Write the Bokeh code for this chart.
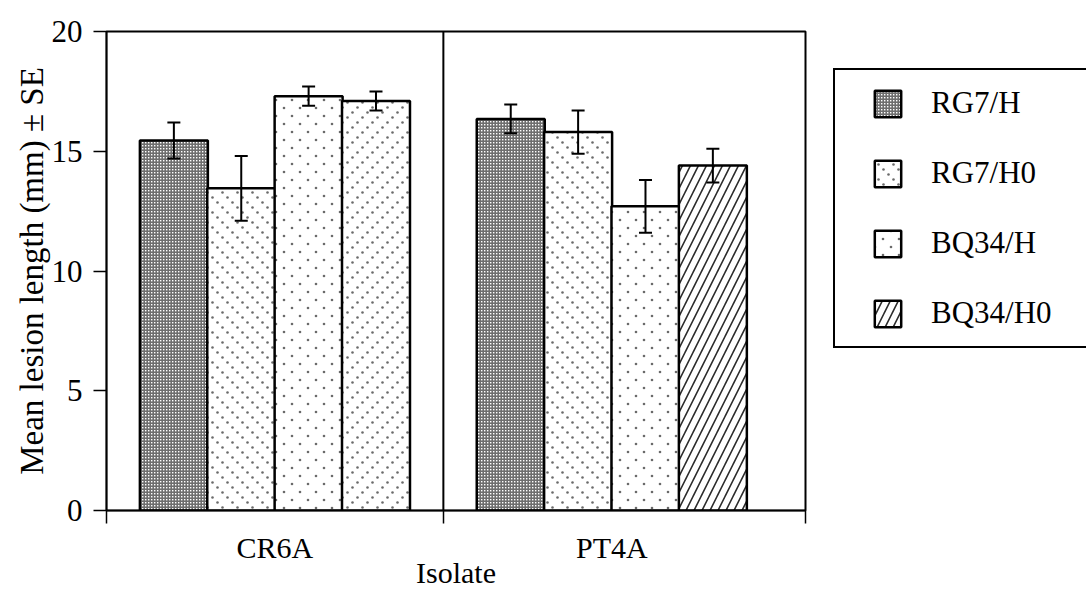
import base64
from bokeh.plotting import figure
from bokeh.core.properties import value
from bokeh.models import (ColumnDataSource, Whisker, TeeHead, FixedTicker, Span,
                          Legend, LegendItem, ImageURLTexture, Range1d)
from bokeh.embed import file_html
from bokeh.resources import INLINE

# ---------------- data ----------------
isolates = ["CR6A", "PT4A"]
series = ["RG7/H", "RG7/H0", "BQ34/H", "BQ34/H0"]
rg7_h = [15.45, 16.35]
rg7_h0 = [13.45, 15.8]
bq34_h = [17.3, 12.7]
bq34_h0 = [17.1, 14.4]
rg7_h_se = [0.75, 0.6]
rg7_h0_se = [1.35, 0.9]
bq34_h_se = [0.4, 1.1]
bq34_h0_se = [0.4, 0.7]
y_ticks = [0, 5, 10, 15, 20]

means = [rg7_h, rg7_h0, bq34_h, bq34_h0]
ses = [rg7_h_se, rg7_h0_se, bq34_h_se, bq34_h0_se]

FONT = "Liberation Serif"


def svg_texture(w, h, body):
    svg = ('<svg xmlns="http://www.w3.org/2000/svg" width="%d" height="%d">%s</svg>'
           % (w, h, body))
    url = "data:image/svg+xml;base64," + base64.b64encode(svg.encode()).decode()
    return ImageURLTexture(url=url, repetition="repeat")


def dots(pts, r=1.3, c="#6a6a6a"):
    return "".join('<circle cx="%s" cy="%s" r="%s" fill="%s"/>' % (x, y, r, c) for x, y in pts)


tex_bs = svg_texture(15, 15, dots([(2.5, 2.5), (7.5, 7.5), (12.5, 12.5)]))
tex_fs = svg_texture(15, 15, dots([(12.5, 2.5), (7.5, 7.5), (2.5, 12.5)]))
tex_sparse = svg_texture(16, 16, dots([(4, 4), (12, 12)], r=1.3))
tex_grid = svg_texture(3, 3, '<rect width="3" height="3" fill="#6e6e6e"/>'
                             '<rect x="1" y="1" width="1.4" height="1.4" fill="#ffffff"/>')

p = figure(frame_width=699, frame_height=479, output_backend="svg", toolbar_location=None,
           x_range=Range1d(0, 2.075), y_range=Range1d(0, 20))
p.min_border_left = 106
p.min_border_right = 0
p.min_border_top = 31
p.min_border_bottom = 81
p.outline_line_color = "black"
p.outline_line_width = 2
p.outline_line_alpha = 1
p.grid.visible = False
p.background_fill_color = "white"
p.border_fill_color = "white"

bar_w = 0.2018
renderers = []
for si, name in enumerate(series):
    xs = [gi + 0.2 * (si + 1) for gi in range(len(isolates))]
    vals = means[si]
    data = dict(x=xs, top=vals,
                upper=[v + e for v, e in zip(vals, ses[si])],
                lower=[v - e for v, e in zip(vals, ses[si])])
    if name == "RG7/H":
        kw = dict(hatch_pattern=value("grid"), hatch_extra={"grid": tex_grid})
    elif name == "RG7/H0":
        kw = dict(hatch_pattern=value("bs"), hatch_extra={"bs": tex_bs})
    elif name == "BQ34/H":
        kw = dict(hatch_pattern=value("sp"), hatch_extra={"sp": tex_sparse})
    else:
        data["pat"] = ["fs", "right_diagonal_line"]
        kw = dict(hatch_pattern="pat", hatch_extra={"fs": tex_fs},
                  hatch_scale=16, hatch_weight=1.6, hatch_color="#2a2a2a")
    src = ColumnDataSource(data)
    r = p.vbar(x="x", top="top", width=bar_w, bottom=0, source=src,
               fill_color="white", line_color="black", line_width=2.5, **kw)
    renderers.append(r)
    p.add_layout(Whisker(source=src, base="x", upper="upper", lower="lower",
                         level="overlay", line_color="black", line_width=2,
                         upper_head=TeeHead(size=13, line_width=2, line_color="black"),
                         lower_head=TeeHead(size=13, line_width=2, line_color="black")))

p.add_layout(Span(location=1, dimension="height", line_color="black", line_width=2))

# axes
yax = p.yaxis[0]
yax.ticker = FixedTicker(ticks=y_ticks, minor_ticks=[])
yax.major_tick_out = 13
yax.major_tick_in = 0
yax.major_tick_line_width = 1.5
yax.axis_line_width = 1.5
yax.major_label_standoff = 11
yax.major_label_text_font = FONT
yax.major_label_text_font_size = "31px"
yax.major_label_text_color = "black"
yax.axis_label = "Mean lesion length (mm) \u00b1 SE"
yax.axis_label_text_font = FONT
yax.axis_label_text_font_size = "33px"
yax.axis_label_text_font_style = "normal"
yax.axis_label_text_color = "black"
yax.axis_label_standoff = -1

xax = p.xaxis[0]
xax.ticker = FixedTicker(ticks=[0.5, 1.5], minor_ticks=[0, 1, 2.075])
xax.major_label_overrides = {0.5: isolates[0], 1.5: isolates[1]}
xax.major_tick_out = 0
xax.major_tick_in = 0
xax.minor_tick_out = 13
xax.minor_tick_in = 0
xax.minor_tick_line_width = 1.5
xax.axis_line_width = 1.5
xax.major_label_standoff = 7
xax.major_label_text_font = FONT
xax.major_label_text_font_size = "30px"
xax.major_label_text_color = "black"
xax.axis_label = "Isolate"
xax.axis_label_text_font = FONT
xax.axis_label_text_font_size = "30px"
xax.axis_label_text_font_style = "normal"
xax.axis_label_text_color = "black"
xax.axis_label_standoff = -11

# legend in the right-hand panel
items = []
for si, name in enumerate(series):
    idx = 1 if name == "BQ34/H0" else None
    items.append(LegendItem(label=name, renderers=[renderers[si]], index=idx))
leg = Legend(items=items, location=(28, 162), padding=13, spacing=30, margin=0,
             title=" ", title_location="left", title_text_font_size="1px",
             title_standoff=22,
             glyph_width=33, glyph_height=33, label_height=40, label_standoff=27,
             label_width=147,
             label_text_font=FONT, label_text_font_size="31px", label_text_color="black",
             border_line_color="black", border_line_width=2, border_line_alpha=1,
             background_fill_color="white", background_fill_alpha=1)
p.add_layout(leg, "right")

open("out.html", "w").write(file_html(p, INLINE))
